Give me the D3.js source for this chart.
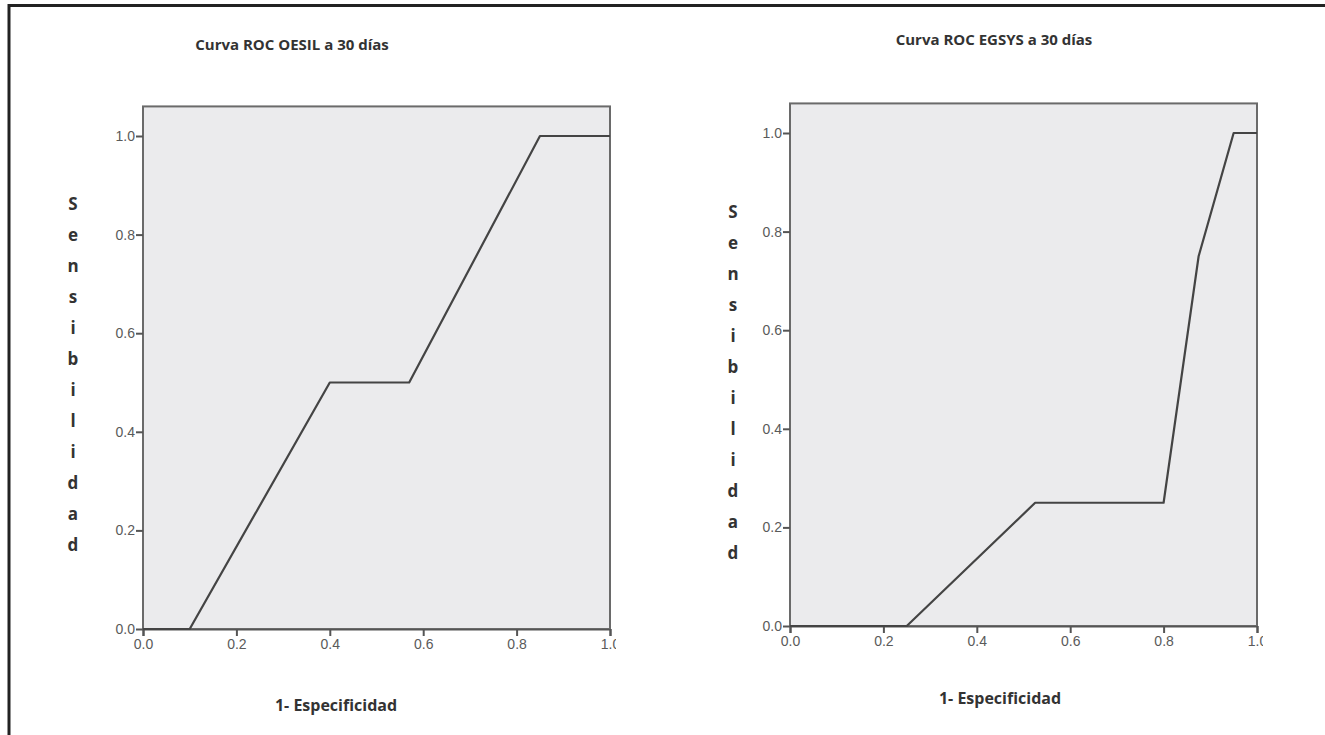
<!DOCTYPE html>
<html>
<head>
<meta charset="utf-8">
<script src="https://cdn.jsdelivr.net/npm/d3@7"></script>
<style>
  body { margin: 0; background: #fff; }
  svg { display: block; }
  .tick text { font-family: "Liberation Sans", Arial, sans-serif; font-size: 14px; fill: #5a5a5a; }
  .ttl { font-family: "Open Sans", sans-serif; font-weight: 700; fill: #333; }
</style>
</head>
<body>
<div id="chart"></div>
<script>
// ROC values
const oesilFpr = [0, 0.1, 0.4, 0.57, 0.85, 1];
const oesilTpr = [0, 0, 0.5, 0.5, 1, 1];
const egsysFpr = [0, 0.25, 0.525, 0.8, 0.875, 0.95, 1];
const egsysTpr = [0, 0, 0.25, 0.25, 0.75, 1, 1];
const tickValues = [0, 0.2, 0.4, 0.6, 0.8, 1.0];
const titles = ["Curva ROC OESIL a 30 días", "Curva ROC EGSYS a 30 días"];
const xTitle = "1- Especificidad";
const yTitle = "Sensibilidad";

const W = 1325, H = 735;
const svg = d3.select("#chart").append("svg").attr("width", W).attr("height", H);

// frame (left + top)
svg.append("path")
  .attr("d", `M9,735 L9,5.5 L1325,5.5`)
  .attr("fill", "none").attr("stroke", "#222").attr("stroke-width", 3);

const panels = [
  { fpr: oesilFpr, tpr: oesilTpr, title: titles[0], x0: 143, x1: 610, y0: 629, y1: 136,
    titleX: 292, titleY: 50, xtX: 336, xtY: 711, ytX: 73, ytY: 210, id: "a" },
  { fpr: egsysFpr, tpr: egsysTpr, title: titles[1], x0: 790, x1: 1257, y0: 626, y1: 133,
    titleX: 994, titleY: 45, xtX: 1000, xtY: 704, ytX: 733, ytY: 218, id: "b" }
];

panels.forEach(p => {
  const x = d3.scaleLinear().domain([0, 1]).range([p.x0, p.x1]);
  const y = d3.scaleLinear().domain([0, 1]).range([p.y0, p.y1]);
  const g = svg.append("g");

  // plot background
  g.append("rect")
    .attr("x", x(0)).attr("y", y(1.06))
    .attr("width", x(1) - x(0)).attr("height", y(0) - y(1.06))
    .attr("fill", "#ebebed").attr("stroke", "#6a6a6a").attr("stroke-width", 2);

  // clip so the last x label gets cut like the original
  svg.append("clipPath").attr("id", "clip" + p.id)
    .append("rect").attr("x", 0).attr("y", 0).attr("width", x(1) + 6).attr("height", H);

  const xAxis = g.append("g")
    .attr("transform", `translate(0,${y(0)})`)
    .attr("clip-path", `url(#clip${p.id})`)
    .call(d3.axisBottom(x).tickValues(tickValues).tickFormat(d3.format(".1f")).tickSize(7).tickPadding(3));
  xAxis.select(".domain").attr("stroke", "#555").attr("stroke-width", 2);
  xAxis.selectAll(".tick line").attr("stroke", "#555").attr("stroke-width", 2);

  const yAxis = g.append("g")
    .attr("transform", `translate(${x(0)},0)`)
    .call(d3.axisLeft(y).tickValues(tickValues).tickFormat(d3.format(".1f")).tickSize(7).tickPadding(1));
  yAxis.select(".domain").remove();
  yAxis.selectAll(".tick line").attr("stroke", "#555").attr("stroke-width", 2);

  // ROC curve
  const pts = p.fpr.map((v, i) => [v, p.tpr[i]]);
  g.append("path")
    .datum(pts)
    .attr("d", d3.line().x(d => x(d[0])).y(d => y(d[1])))
    .attr("fill", "none").attr("stroke", "#444").attr("stroke-width", 2.2)
    .attr("stroke-linejoin", "round");

  // titles
  g.append("text").attr("class", "ttl")
    .attr("x", p.titleX).attr("y", p.titleY)
    .attr("text-anchor", "middle").attr("font-size", 15)
    .text(p.title);

  g.append("text").attr("class", "ttl")
    .attr("x", p.xtX).attr("y", p.xtY)
    .attr("text-anchor", "middle").attr("font-size", 16)
    .text(xTitle);

  // vertical stacked y title
  g.append("text").attr("class", "ttl")
    .attr("font-size", 17).attr("text-anchor", "middle")
    .selectAll("tspan")
    .data(yTitle.split(""))
    .join("tspan")
    .attr("x", p.ytX)
    .attr("y", (d, i) => p.ytY + i * 31)
    .text((d, i) => i === 0 ? d.toUpperCase() : d);
});
</script>
</body>
</html>
